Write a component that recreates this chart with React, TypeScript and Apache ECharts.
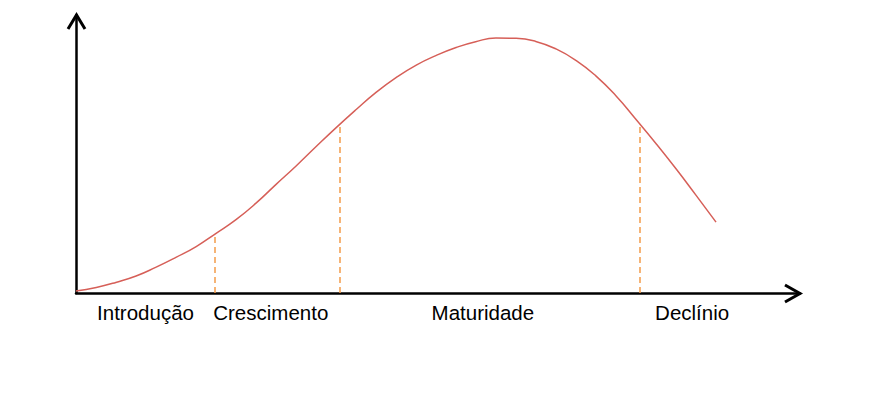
import React, { useEffect, useRef } from "react";
import * as echarts from "echarts";

const curveX = [0, 2.8, 5.5, 8.3, 11.0, 13.8, 16.6, 19.3, 22.1, 24.9, 27.6, 30.4, 33.1, 35.9, 38.7, 41.4, 44.2, 47.0, 49.7, 52.5, 55.2, 58.0, 60.8, 63.5, 66.3, 69.1, 71.8, 74.6, 77.3, 80.1, 82.9, 85.6, 88.4];
const curveY = [0.7, 2.0, 3.8, 6.1, 9.2, 12.8, 16.7, 21.4, 26.4, 32.4, 39.0, 45.7, 52.5, 59.4, 66.0, 72.1, 77.5, 82.0, 85.4, 88.3, 90.4, 91.7, 91.6, 90.5, 87.8, 83.6, 78.1, 70.9, 62.6, 53.8, 44.6, 35.3, 25.5];
const boundaryX = [19.1, 36.4, 77.8];
const boundaryY = [20.9, 60.8, 61.0];
const stageNames = ["Introdução", "Crescimento", "Maturidade", "Declínio"];
const stagePos = [9.6, 26.9, 56.2, 85.1];

export default function App() {
  const ref = useRef<HTMLDivElement>(null);
  useEffect(() => {
    if (!ref.current) return;
    const chart = echarts.init(ref.current, null, { renderer: "svg" });
    const data = curveX.map((x, i) => [x, curveY[i]]);
    const lines = boundaryX.map((x, i) => [
      { coord: [x, 0] },
      { coord: [x, boundaryY[i]] },
    ]);
    chart.setOption({
      animation: false,
      grid: { left: 76, right: 69, top: 15, bottom: 114 },
      xAxis: {
        type: "value",
        min: 0,
        max: 100,
        splitLine: { show: false },
        axisTick: { show: false },
        axisLine: { show: true, lineStyle: { color: "#000", width: 2.5 } },
        axisLabel: {
          show: true,
          customValues: stagePos,
          formatter: (v: number) => {
            const i = stagePos.findIndex((p) => Math.abs(p - v) < 0.01);
            return i >= 0 ? stageNames[i] : "";
          },
          color: "#000",
          fontSize: 20.5,
          fontFamily: "Liberation Sans, Arial, sans-serif",
          margin: 9,
        },
      },
      yAxis: {
        type: "value",
        min: 0,
        max: 100,
        splitLine: { show: false },
        axisTick: { show: false },
        axisLabel: { show: false },
        axisLine: { show: true, lineStyle: { color: "#000", width: 2.5 } },
      },
      graphic: [
        {
          type: "polyline",
          shape: { points: [[68, 29], [76.5, 15], [85, 29]] },
          style: { stroke: "#000", lineWidth: 3, fill: "none" },
        },
        {
          type: "polyline",
          shape: { points: [[785, 285], [800, 293.5], [785, 302]] },
          style: { stroke: "#000", lineWidth: 3, fill: "none" },
        },
      ],
      series: [
        {
          type: "line",
          data,
          smooth: true,
          showSymbol: false,
          lineStyle: { color: "#d65f58", width: 1.5 },
          markLine: {
            silent: true,
            symbol: "none",
            label: { show: false },
            lineStyle: { color: "#f39c4a", type: [6, 4], width: 1.5 },
            data: lines,
          },
        },
      ],
    });
    return () => chart.dispose();
  }, []);
  return <div ref={ref} style={{ width: 869, height: 407, position: "absolute", left: 0, top: 0 }} />;
}
